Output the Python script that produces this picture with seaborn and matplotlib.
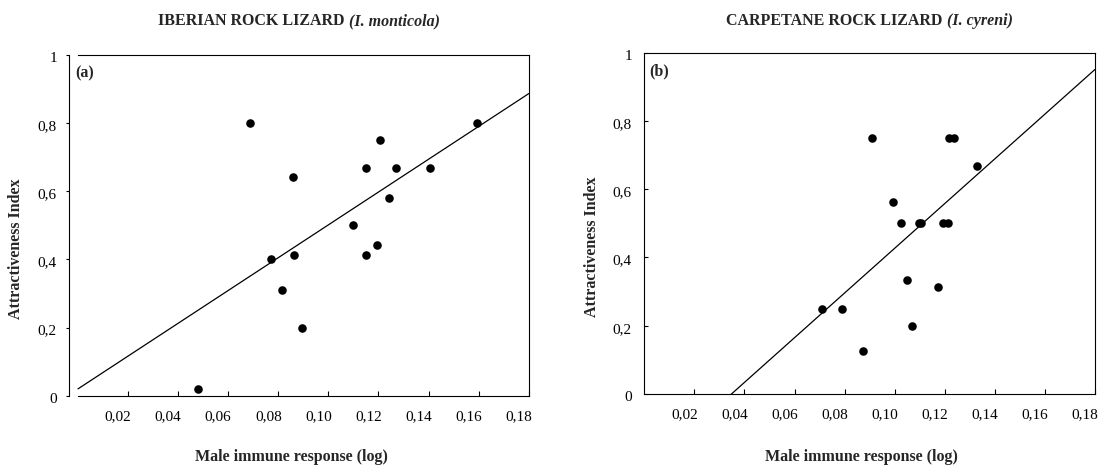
import numpy as np
import pandas as pd
import matplotlib
matplotlib.use("Agg")
import matplotlib.pyplot as plt
import matplotlib.transforms as mtransforms
import seaborn as sns

# ---------------- data ----------------
mont_x = [0.0687, 0.0479, 0.0770, 0.0816, 0.0859, 0.0864, 0.0893, 0.1100,
          0.1150, 0.1150, 0.1195, 0.1206, 0.1244, 0.1270, 0.1407, 0.1595]
mont_y = [0.800, 0.021, 0.400, 0.311, 0.641, 0.413, 0.200, 0.500,
          0.667, 0.413, 0.441, 0.750, 0.581, 0.667, 0.667, 0.800]
mont_fit = (0.020, 4.81)      # intercept, slope

cyr_x = [0.0709, 0.0791, 0.0874, 0.0909, 0.0992, 0.1025, 0.1049, 0.1070,
         0.1097, 0.1107, 0.1171, 0.1191, 0.1212, 0.1215, 0.1237, 0.1330]
cyr_y = [0.250, 0.250, 0.125, 0.750, 0.5625, 0.500, 0.333, 0.200,
         0.500, 0.500, 0.3125, 0.500, 0.500, 0.750, 0.750, 0.667]
cyr_fit = (-0.228, 6.55)

x_ticks = [0.02, 0.04, 0.06, 0.08, 0.10, 0.12, 0.14, 0.16, 0.18]
x_ticklabels = ["0,02", "0,04", "0,06", "0,08", "0,10", "0,12", "0,14", "0,16", "0,18"]
y_ticks = [0, 0.2, 0.4, 0.6, 0.8, 1.0]
y_ticklabels = ["0", "0,2", "0,4", "0,6", "0,8", "1"]

titles = [("IBERIAN ROCK LIZARD", "(I. monticola)"),
          ("CARPETANE ROCK LIZARD", "(I. cyreni)")]
panel_tags = ["(a)", "(b)"]
xlabel = "Male immune response (log)"
ylabel = "Attractiveness Index"

# ---------------- style ----------------
sns.set_theme(style="white")
plt.rcParams["font.family"] = ["Liberation Serif", "DejaVu Serif"]
plt.rcParams["axes.edgecolor"] = "black"
plt.rcParams["axes.linewidth"] = 0.8

W, H = 1105, 467
fig = plt.figure(figsize=(W / 100, H / 100), dpi=100)
fig.patch.set_facecolor("white")

ax1 = fig.add_axes([69.3 / W, 1 - 395.7 / H, 459.4 / W, 341.0 / H])
ax2 = fig.add_axes([644.3 / W, 1 - 394.0 / H, 450.7 / W, 341.3 / H])

FS = 11.5
xlab_shift = mtransforms.ScaledTranslation(-10 / 100, 0, fig.dpi_scale_trans)
ylab_shift = mtransforms.ScaledTranslation(0, -2 / 100, fig.dpi_scale_trans)

def draw_panel(ax, xs, ys, fit, xlim, tag, ydir, ypad, ylen):
    df = pd.DataFrame({"x": xs, "y": ys})
    sns.scatterplot(data=df, x="x", y="y", ax=ax, color="black", s=38,
                    edgecolor="black", linewidth=0, zorder=3)
    fx = np.array([0.0, 0.18])
    line = pd.DataFrame({"x": fx, "y": fit[0] + fit[1] * fx})
    sns.lineplot(data=line, x="x", y="y", ax=ax, color="black", linewidth=0.9)
    ax.set_xlim(*xlim)
    ax.set_ylim(0, 1)
    ax.set_xticks(x_ticks)
    ax.set_xticklabels(x_ticklabels)
    ax.set_yticks(y_ticks)
    ax.set_yticklabels(y_ticklabels)
    ax.tick_params(axis="x", bottom=True, direction="in", length=3.6, width=0.8,
                   pad=10.5, labelsize=11, colors="black")
    ax.tick_params(axis="y", left=True, direction=ydir, length=ylen, width=0.8,
                   pad=ypad, labelsize=11, colors="black")
    for lab in ax.get_xticklabels():
        lab.set_transform(lab.get_transform() + xlab_shift)
    for lab in ax.get_yticklabels():
        lab.set_transform(lab.get_transform() + ylab_shift)
    for s in ax.spines.values():
        s.set_visible(True)
        s.set_color("black")
        s.set_linewidth(0.8)
    ax.spines["top"].set_bounds(0, 0.18)
    ax.spines["bottom"].set_bounds(0, 0.18)
    ax.set_xlabel("")
    ax.set_ylabel(ylabel, fontsize=FS, fontweight="bold")
    ax.yaxis.set_label_coords(-0.098, 0.43)
    ax.text(0.012, 0.945, tag, transform=ax.transAxes, fontsize=FS,
            fontweight="bold", ha="left", va="center")
    ax.set_facecolor("white")

draw_panel(ax1, mont_x, mont_y, mont_fit, (-0.00347, 0.18), panel_tags[0], "out", 6.5, 2.5)
draw_panel(ax2, cyr_x, cyr_y, cyr_fit, (0.0, 0.18), panel_tags[1], "in", 9.0, 3.0)

# x labels and titles
renderer = fig.canvas.get_renderer()
for ax, (t_main, t_it) in zip([ax1, ax2], titles):
    bb = ax.get_position()
    xc = (bb.x0 + bb.x1) / 2
    fig.text(xc - 8 / W, 1 - 457 / H, xlabel, fontsize=FS, fontweight="bold",
             ha="center", va="center")
    ta = fig.text(0, 1 - 25 / H, t_main, fontsize=FS, fontweight="bold",
                  ha="left", va="baseline")
    tb = fig.text(0, 1 - 25 / H, t_it, fontsize=FS, fontweight="bold",
                  style="italic", ha="left", va="baseline")
    wa = ta.get_window_extent(renderer).width
    wb = tb.get_window_extent(renderer).width
    gap = 4.0
    total = wa + gap + wb
    x0 = xc * W - total / 2
    ta.set_x(x0 / W)
    tb.set_x((x0 + wa + gap) / W)

fig.savefig("out.png", dpi=100, facecolor="white")
